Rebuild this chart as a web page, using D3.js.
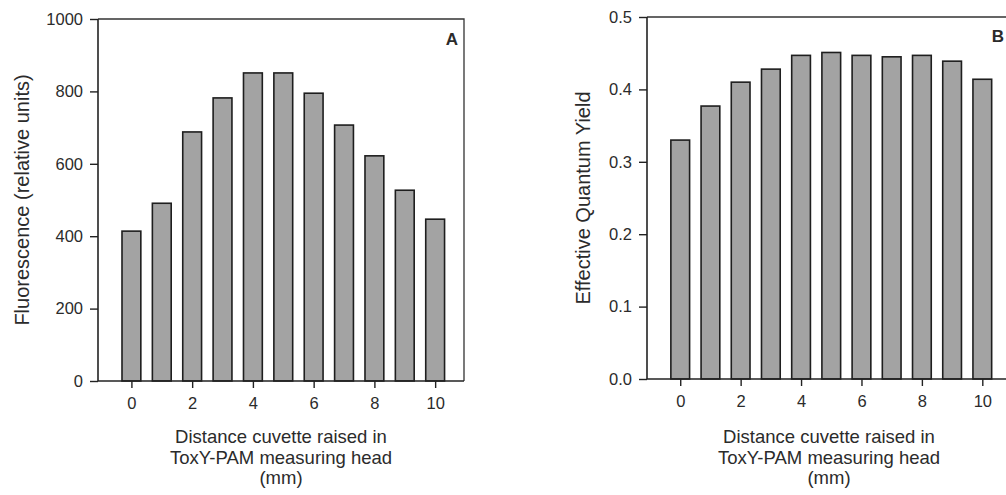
<!DOCTYPE html>
<html>
<head>
<meta charset="utf-8">
<script src="https://cdn.jsdelivr.net/npm/d3@7"></script>
<style>
  body { margin: 0; background: #fff; }
  svg { display: block; }
  text { font-family: "Liberation Sans", Arial, sans-serif; fill: #2b2b2b; }
</style>
</head>
<body>
<div id="chart"></div>
<script>
const distances = [0, 1, 2, 3, 4, 5, 6, 7, 8, 9, 10];
const xTicks = [0, 2, 4, 6, 8, 10];
const fluorescence = [414, 491, 688, 782, 851, 851, 795, 707, 622, 527, 447];
const quantumYield = [0.330, 0.377, 0.410, 0.428, 0.447, 0.451, 0.447, 0.445, 0.447, 0.439, 0.414];
const fluoTicks = [0, 200, 400, 600, 800, 1000];
const yieldTicks = [0, 0.1, 0.2, 0.3, 0.4, 0.5];
const xTitle = ['Distance cuvette raised in', 'ToxY-PAM measuring head', '(mm)'];

const width = 1006;
const height = 495;

const svg = d3.select('#chart')
  .append('svg')
  .attr('width', width)
  .attr('height', height);

function drawPanel({ left, right, top, bottom, values, yMax, yTicks, yFormat, yTitle, yTitleX, letter, letterX, letterY }) {
  const x = d3.scaleLinear().domain([-1.1, 10.95]).range([left, right]);
  const y = d3.scaleLinear().domain([0, yMax]).range([bottom, top]);
  const barW = x(0.31) - x(-0.31);

  const g = svg.append('g');

  // bars
  g.selectAll('rect.bar')
    .data(values)
    .enter()
    .append('rect')
    .attr('class', 'bar')
    .attr('x', (d, i) => x(distances[i]) - barW / 2)
    .attr('y', (d) => y(d))
    .attr('width', barW)
    .attr('height', (d) => y(0) - y(d))
    .attr('fill', '#a3a3a3')
    .attr('stroke', '#1e1e1e')
    .attr('stroke-width', 1.6);

  // frame (top + right)
  g.append('path')
    .attr('d', `M${left},${top}H${right}V${bottom}`)
    .attr('fill', 'none')
    .attr('stroke', '#333')
    .attr('stroke-width', 1.3);

  const yAxis = g.append('g')
    .attr('transform', `translate(${left},0)`)
    .call(d3.axisLeft(y).tickValues(yTicks).tickFormat(yFormat).tickSize(8).tickPadding(7));

  const xAxis = g.append('g')
    .attr('transform', `translate(0,${bottom})`)
    .call(d3.axisBottom(x).tickValues(xTicks).tickFormat(d3.format('d')).tickSize(7).tickPadding(9));

  [yAxis, xAxis].forEach((ax) => {
    ax.select('.domain').attr('stroke', '#222').attr('stroke-width', 1.6);
    ax.selectAll('.tick line').attr('stroke', '#222').attr('stroke-width', 1.4);
    ax.selectAll('.tick text')
      .style('font-family', '"Liberation Sans", Arial, sans-serif')
      .style('font-size', '16.5px')
      .attr('fill', '#2b2b2b');
  });
  yAxis.select('.domain').attr('d', `M0,${top}V${bottom}`);
  xAxis.select('.domain').attr('d', `M${left},0H${right}`);

  // y title
  g.append('text')
    .attr('transform', `translate(${yTitleX},${(top + bottom) / 2}) rotate(-90)`)
    .attr('text-anchor', 'middle')
    .attr('dominant-baseline', 'central')
    .style('font-size', '20px')
    .text(yTitle);

  // x title
  const cx = (left + right) / 2;
  g.append('text')
    .attr('text-anchor', 'middle')
    .style('font-size', '18.5px')
    .selectAll('tspan')
    .data(xTitle)
    .enter()
    .append('tspan')
    .attr('x', cx)
    .attr('y', (d, i) => 443 + i * 20.5)
    .text((d) => d);

  // panel letter
  g.append('text')
    .attr('x', letterX)
    .attr('y', letterY)
    .attr('text-anchor', 'middle')
    .style('font-size', '17px')
    .style('font-weight', 'bold')
    .attr('fill', '#111')
    .text(letter);
}

drawPanel({
  left: 98, right: 464, top: 19, bottom: 381,
  values: fluorescence, yMax: 1000, yTicks: fluoTicks, yFormat: d3.format('d'),
  yTitle: 'Fluorescence (relative units)', yTitleX: 22,
  letter: 'A', letterX: 452, letterY: 45,
});

drawPanel({
  left: 647, right: 1011, top: 17, bottom: 379,
  values: quantumYield, yMax: 0.5, yTicks: yieldTicks, yFormat: d3.format('.1f'),
  yTitle: 'Effective Quantum Yield', yTitleX: 583,
  letter: 'B', letterX: 998, letterY: 42,
});
</script>
</body>
</html>
